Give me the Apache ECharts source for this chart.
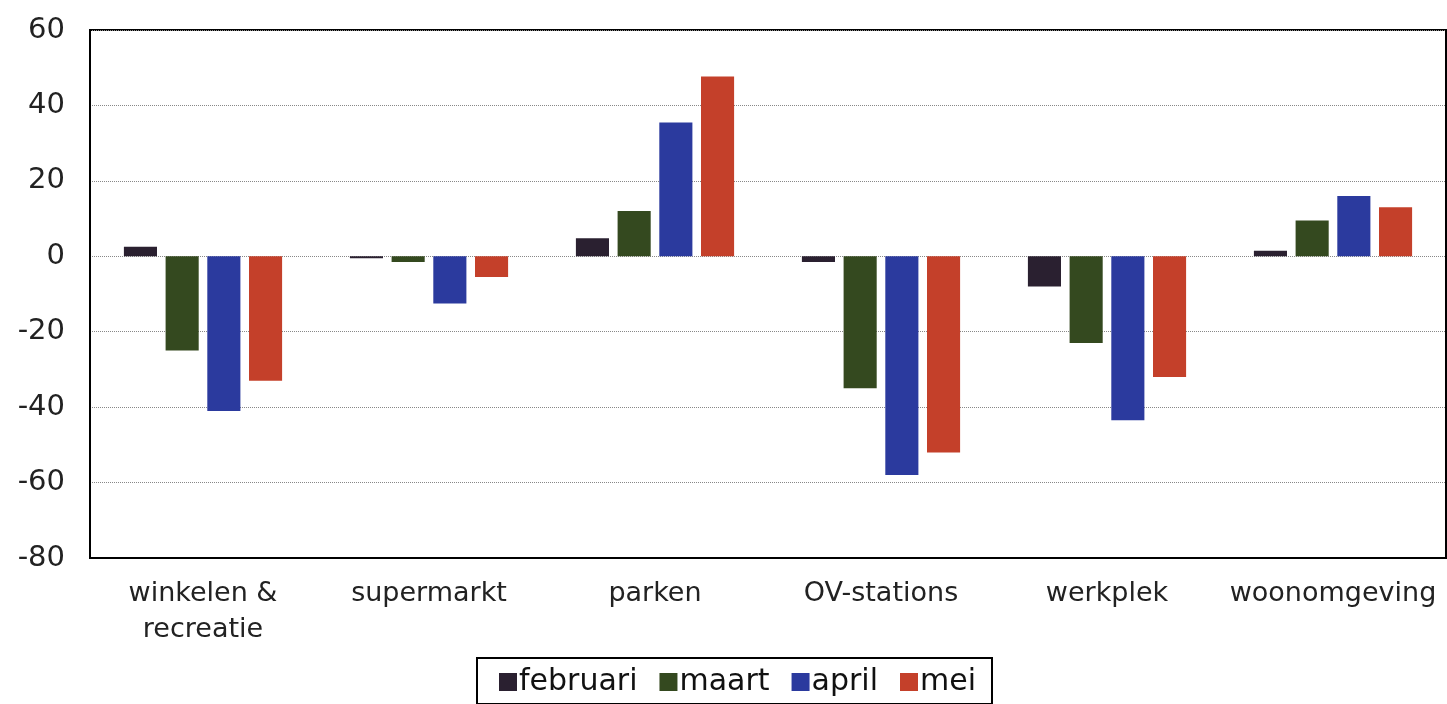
<!DOCTYPE html>
<html>
<head>
<meta charset="utf-8">
<style>
  html, body { margin: 0; padding: 0; background: #fff; }
  #chart { width: 1447px; height: 704px; }
</style>
<script src="https://cdn.jsdelivr.net/npm/echarts@6/dist/echarts.min.js"></script>
</head>
<body>
<div id="chart"></div>
<script>
  // categorieën en waarden per maand
  var categories = ['winkelen &\nrecreatie', 'supermarkt', 'parken', 'OV-stations', 'werkplek', 'woonomgeving'];
  var months = ['februari', 'maart', 'april', 'mei'];
  var februari = [2.5, -0.5, 4.8, -1.5, -8, 1.5];
  var maart = [-25, -1.5, 12, -35, -23, 9.5];
  var april = [-41, -12.5, 35.5, -58, -43.5, 16];
  var mei = [-33, -5.5, 47.7, -52, -32, 13];
  var colors = ['#2a2030', '#34491f', '#2b3a9e', '#c4402a'];

  var chart = echarts.init(document.getElementById('chart'));
  var font = 'DejaVu Sans';

  var series = [februari, maart, april, mei].map(function (vals, i) {
    return {
      name: months[i],
      type: 'bar',
      data: vals,
      barGap: '26%',
      barCategoryGap: '30%',
      itemStyle: {color: colors[i]}
    };
  });

  chart.setOption({
    animation: false,
    grid: {
      left: 90,
      right: 1,
      top: 30,
      bottom: 146,
      show: true,
      borderColor: '#000',
      borderWidth: 2
    },
    legend: {
      data: months,
      left: 477,
      bottom: 0,
      icon: 'rect',
      itemWidth: 18,
      itemHeight: 18,
      itemGap: 22,
      padding: [9, 16, 7, 22],
      borderColor: '#000',
      borderWidth: 2,
      textStyle: {fontFamily: font, fontSize: 30, color: '#111', padding: [0, 0, 0, -3]}
    },
    xAxis: {
      type: 'category',
      data: categories,
      axisLine: {onZero: false, lineStyle: {color: '#000', width: 2}},
      axisTick: {show: false},
      axisLabel: {interval: 0, fontFamily: font, fontSize: 27, color: '#222', margin: 18, lineHeight: 36}
    },
    yAxis: {
      type: 'value',
      min: -80,
      max: 60,
      interval: 20,
      axisLine: {show: true, lineStyle: {color: '#000', width: 2}},
      axisTick: {show: false},
      splitLine: {lineStyle: {color: '#888', type: 'dotted', width: 1}},
      axisLabel: {fontFamily: font, fontSize: 29, color: '#222', margin: 25}
    },
    series: series
  });
</script>
</body>
</html>
